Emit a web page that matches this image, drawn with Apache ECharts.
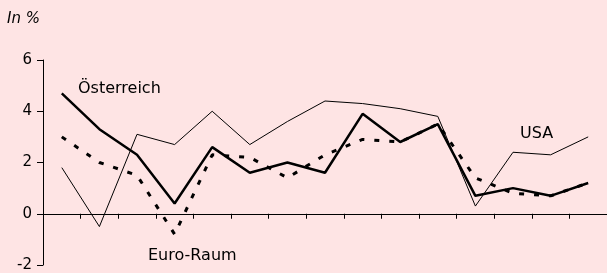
<!DOCTYPE html>
<html>
<head>
<meta charset="utf-8">
<script src="https://cdn.jsdelivr.net/npm/echarts@6/dist/echarts.min.js"></script>
<style>
  html, body { margin: 0; padding: 0; background: #fee4e4; }
  #chart { width: 607px; height: 273px; }
</style>
</head>
<body>
<div id="chart"></div>
<script>
// 15 Zeitpunkte, ohne Beschriftung
var categories = ['1','2','3','4','5','6','7','8','9','10','11','12','13','14','15'];
var oesterreich = [4.7, 3.3, 2.3, 0.4, 2.6, 1.6, 2.0, 1.6, 3.9, 2.8, 3.5, 0.7, 1.0, 0.7, 1.2];
var euroRaum    = [3.0, 2.0, 1.5, -0.8, 2.3, 2.2, 1.4, 2.3, 2.9, 2.8, 3.5, 1.4, 0.8, 0.7, 1.2];
var usa         = [1.8, -0.5, 3.1, 2.7, 4.0, 2.7, 3.6, 4.4, 4.3, 4.1, 3.8, 0.3, 2.4, 2.3, 3.0];
var yTicks = [-2, 0, 2, 4, 6];

var font = '"DejaVu Sans", sans-serif';
var chart = echarts.init(document.getElementById('chart'));

chart.setOption({
    backgroundColor: '#fee4e4',
    animation: false,
    grid: { left: 43, right: 0, top: 60, bottom: 8 },
    xAxis: {
        type: 'category',
        data: categories,
        boundaryGap: true,
        axisLine: { onZero: true, lineStyle: { color: '#000', width: 1 } },
        axisTick: { show: true, interval: 0, length: 5, lineStyle: { color: '#000' } },
        axisLabel: { show: false },
        splitLine: { show: false }
    },
    yAxis: {
        type: 'value',
        min: yTicks[0],
        max: yTicks[yTicks.length - 1],
        interval: 2,
        axisLine: { show: true, lineStyle: { color: '#000', width: 1 } },
        axisTick: { show: true, length: 6, lineStyle: { color: '#000' } },
        axisLabel: { color: '#000', fontSize: 15, fontFamily: font, margin: 11 },
        splitLine: { show: false }
    },
    series: [
        {
            name: 'USA', type: 'line', data: usa, symbol: 'none',
            lineStyle: { color: '#000', width: 1 }, z: 2
        },
        {
            name: 'Euro-Raum', type: 'line', data: euroRaum, symbol: 'none',
            lineStyle: { color: '#000', width: 3, type: [5, 10], cap: 'butt' }, z: 3
        },
        {
            name: 'Österreich', type: 'line', data: oesterreich, symbol: 'none',
            lineStyle: { color: '#000', width: 2.5 }, z: 4
        }
    ],
    graphic: [
        { type: 'text', left: 7, top: 12, style: { text: 'In %', font: 'italic 15px ' + font, fill: '#000' } },
        { type: 'text', left: 78, top: 81, style: { text: 'Österreich', font: '16px ' + font, fill: '#000' } },
        { type: 'text', left: 148, top: 248, style: { text: 'Euro-Raum', font: '16px ' + font, fill: '#000' } },
        { type: 'text', left: 520, top: 126, style: { text: 'USA', font: '16px ' + font, fill: '#000' } }
    ]
});
</script>
</body>
</html>
